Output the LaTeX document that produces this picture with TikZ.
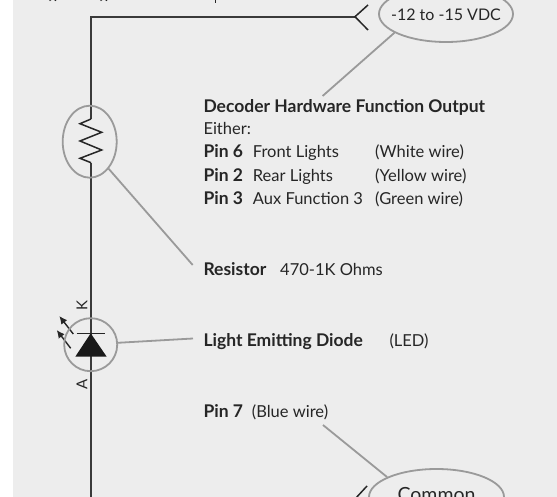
\documentclass[tikz,border=0pt]{standalone}
\usepackage{fontspec}
\setmainfont{Lato}
\usetikzlibrary{shapes.geometric}
\usetikzlibrary{arrows.meta}
\definecolor{panelgray}{HTML}{EDEDED}
\definecolor{wiregray}{HTML}{3A3A3A}
\definecolor{calloutgray}{HTML}{9A9A9A}
\tikzset{
    wire/.style={draw=wiregray,line width=2.2pt},
    symbolline/.style={draw=black!85,line width=1.5pt},
    callout/.style={draw=calloutgray,line width=1.8pt},
    ring/.style={draw=calloutgray,line width=1.8pt,ellipse,inner sep=0pt},
    ledray/.style={draw=black!85,line width=1.4pt,-{Latex[length=8pt,width=7.5pt]}},
    label/.style={anchor=base west,inner sep=0pt,text=black!85,font=\fontsize{16.5}{19}\selectfont},
    head/.style={anchor=base west,inner sep=0pt,text=black!85,font=\fontsize{17.5}{20}\selectfont\bfseries}
}
\begin{document}
\begin{tikzpicture}[x=1pt,y=-1pt]
    \useasboundingbox (0,0) rectangle (557,497);
    \clip (0,0) rectangle (557,497);
    \fill[panelgray] (13,0) rectangle (557,497);
    % leftover descenders of the cropped heading
    \draw[black!85,line width=1.5pt] (49.5,0.5) arc[start angle=200,end angle=340,x radius=3.5,y radius=2.5];
    \draw[black!85,line width=1.5pt] (100.5,0.5) arc[start angle=200,end angle=340,x radius=3.5,y radius=2.5];
    \draw[black!85,line width=1.5pt] (215.5,0) -- (215.5,3);
    % wire
    \coordinate (topfork) at (355,16.7);
    \coordinate (topcorner) at (91,16.7);
    \coordinate (restop) at (91,119);
    \coordinate (resbot) at (91,162.7);
    \coordinate (wireend) at (91,499);
    \coordinate (botfork) at (355,499);
    \draw[wire] (topfork) -- (topcorner) -- (restop);
    \draw[wire] (resbot) -- (wireend) -- (botfork);
    \draw[symbolline] (368,5) -- (topfork) -- (368,30);
    \draw[symbolline] (367,486) -- (botfork) -- (367,512);
    % resistor
    \draw[symbolline] (restop) -- (80,123.7) -- (101.7,132.3) -- (80,141) -- (101.7,150) -- (80,158.3) -- (resbot);
    \node[ring,minimum width=54pt,minimum height=72pt] (resring) at (89.7,141.7) {};
    % led
    \fill[black!90] (90.7,333.3) -- (106.7,356.7) -- (75.3,356.7) -- cycle;
    \draw[symbolline] (76.7,333.3) -- (105,333.3);
    \draw[ledray] (73.3,334) -- (59.3,316);
    \draw[ledray] (70.7,348.3) -- (56.7,330);
    \node[ring,circle,minimum size=53pt] (ledring) at (90.7,344.7) {};
    \node[label,anchor=center,rotate=90,font=\fontsize{15}{17}\selectfont] (kmark) at (82,305.5) {K};
    \node[label,anchor=center,rotate=90,font=\fontsize{15}{17}\selectfont] (amark) at (82,384) {A};
    % supply and common
    \node[ring,minimum width=134pt,minimum height=56pt] (vdc) at (446,14) {};
    \node[label,anchor=base,font=\fontsize{16}{18}\selectfont] (vdctext) at (446,20.6) {-12 to -15 VDC};
    \node[ring,minimum width=135pt,minimum height=56pt] (common) at (436.5,497) {};
    \node[label,anchor=base,font=\fontsize{19.5}{22}\selectfont] (commontext) at (436.5,501) {Common};
    % texts
    \node[head] (decoder) at (203.3,112.2) {Decoder Hardware Function Output};
    \node[label] (either) at (203.3,134.3) {Either:};
    \node[head] (pinsix) at (203.3,158) {Pin 6};
    \node[label] (front) at (252.7,158) {Front Lights};
    \node[label] (white) at (375,158) {(White wire)};
    \node[head] (pintwo) at (203.3,181.7) {Pin 2};
    \node[label] (rear) at (252.7,181.7) {Rear Lights};
    \node[label] (yellow) at (375,181.7) {(Yellow wire)};
    \node[head] (pinthree) at (203.3,205) {Pin 3};
    \node[label] (aux) at (252.7,205) {Aux Function 3};
    \node[label] (green) at (375,205) {(Green wire)};
    \node[head] (resistor) at (203.3,276) {Resistor};
    \node[label] (ohms) at (280,276) {470-1K Ohms};
    \node[head] (diode) at (203.3,346.7) {Light Emitting Diode};
    \node[label] (ledtext) at (389.3,346.7) {(LED)};
    \node[head] (pinseven) at (203.3,417.7) {Pin 7};
    \node[label] (blue) at (251.7,417.7) {(Blue wire)};
    % callouts
    \coordinate (decoderend) at (322.6,96);
    \coordinate (resistorend) at (192.7,265);
    \coordinate (diodeend) at (193,338.5);
    \coordinate (blueend) at (323,425);
    \draw[callout] (vdc.200) -- (decoderend);
    \draw[callout] (resring.-55) -- (resistorend);
    \draw[callout] (ledring.4) -- (diodeend);
    \draw[callout] (common.158) -- (blueend);
\end{tikzpicture}
\end{document}
